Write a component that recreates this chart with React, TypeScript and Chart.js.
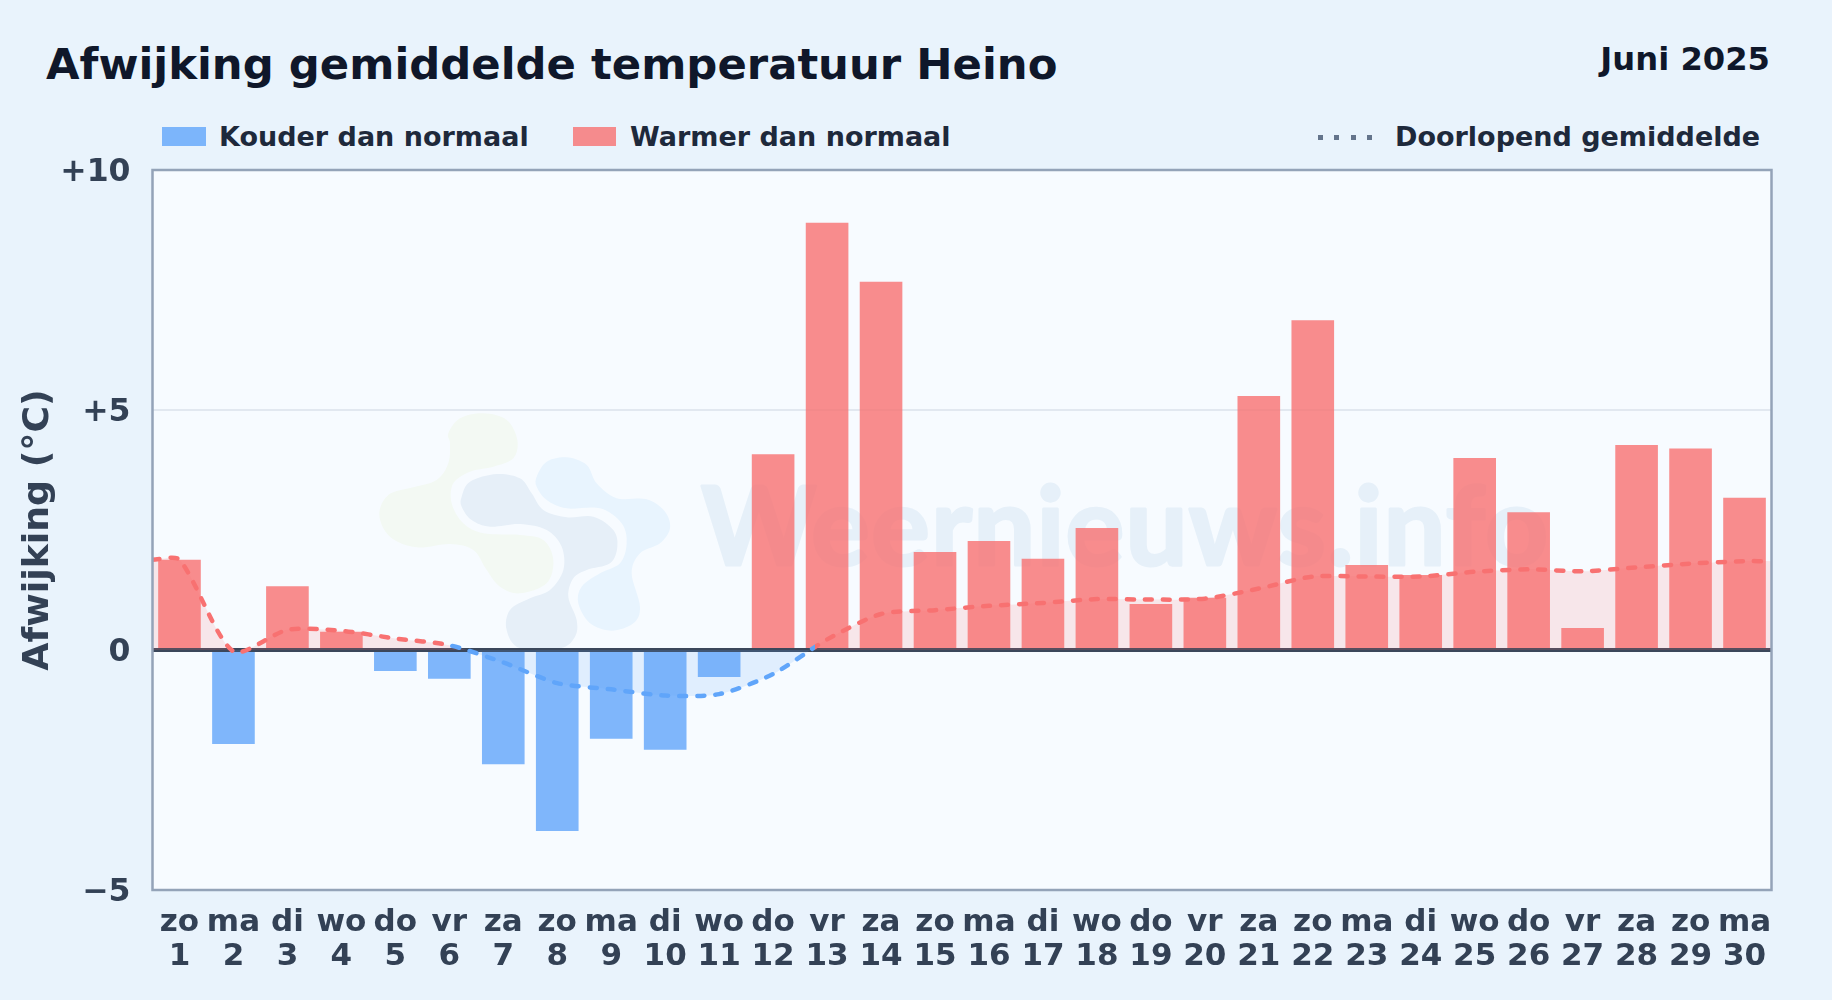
import React, { useEffect, useRef } from "react";
import { Chart, registerables } from "chart.js";

Chart.register(...registerables);

const weekdays = ["zo","ma","di","wo","do","vr","za","zo","ma","di","wo","do","vr","za","zo","ma","di","wo","do","vr","za","zo","ma","di","wo","do","vr","za","zo","ma"];
const dayNumbers = [1,2,3,4,5,6,7,8,9,10,11,12,13,14,15,16,17,18,19,20,21,22,23,24,25,26,27,28,29,30];
const deviation = [1.88,-1.96,1.33,0.38,-0.44,-0.6,-2.38,-3.77,-1.85,-2.08,-0.56,4.08,8.9,7.67,2.04,2.27,1.9,2.54,0.96,1.09,5.29,6.87,1.77,1.56,4.0,2.87,0.46,4.27,4.2,3.17];
const runningMean = [1.88,-0.03,0.42,0.4,0.24,0.1,-0.26,-0.69,-0.82,-0.95,-0.92,-0.5,0.22,0.75,0.83,0.92,0.98,1.06,1.05,1.07,1.28,1.53,1.53,1.53,1.63,1.68,1.64,1.72,1.8,1.85];
const yTicks = [-5, 0, 5, 10];

const RED = "#f87171";
const BLUE = "#60a5fa";
const RED_BAR = "rgba(247,113,113,0.8)";
const BLUE_BAR = "rgba(96,165,250,0.8)";
const FONT = '"DejaVu Sans"';

const blobGreen = [[265,100],[300,55],[370,40],[440,60],[472,120],[460,175],[400,200],[330,215],[280,250],[275,310],[310,370],[370,400],[480,405],[550,420],[580,480],[560,550],[480,580],[420,560],[380,510],[340,450],[270,432],[170,442],[90,410],[58,345],[85,285],[160,262],[230,240],[265,190],[270,130]];
const blobSlate = [[305,290],[330,245],[410,222],[480,235],[515,280],[550,330],[620,352],[700,350],[760,390],[772,440],[750,490],[680,510],[640,535],[625,590],[650,660],[645,710],[600,745],[480,745],[440,690],[450,630],[510,595],[570,570],[610,510],[605,440],[560,390],[480,372],[390,380],[335,360],[305,320]];
const blobSky = [[530,230],[560,185],[620,172],[680,195],[710,250],[770,295],[860,298],[915,335],[930,385],[900,430],[840,460],[815,520],[840,620],[820,670],[755,692],[690,670],[655,610],[665,560],[720,520],[780,490],[800,430],[785,370],[720,325],[620,325],[560,300],[530,260]];

function drawBlob(ctx: CanvasRenderingContext2D, pts: number[][], color: string) {
  const P = pts.map(([x, y]) => [360 + x / 3, 400 + y / 3]);
  const n = P.length;
  ctx.beginPath();
  ctx.moveTo(P[0][0], P[0][1]);
  for (let i = 0; i < n; i++) {
    const p0 = P[(i - 1 + n) % n], p1 = P[i], p2 = P[(i + 1) % n], p3 = P[(i + 2) % n];
    ctx.bezierCurveTo(
      p1[0] + (p2[0] - p0[0]) / 6, p1[1] + (p2[1] - p0[1]) / 6,
      p2[0] - (p3[0] - p1[0]) / 6, p2[1] - (p3[1] - p1[1]) / 6,
      p2[0], p2[1]
    );
  }
  ctx.closePath();
  ctx.fillStyle = color;
  ctx.fill();
}

const decorPlugin = {
  id: "decor",
  beforeDraw(chart: any) {
    const { ctx, chartArea: a } = chart;
    ctx.save();
    ctx.fillStyle = "#f7fbff";
    ctx.fillRect(a.left, a.top, a.right - a.left, a.bottom - a.top);
    ctx.beginPath();
    ctx.rect(a.left, a.top, a.right - a.left, a.bottom - a.top);
    ctx.clip();
    drawBlob(ctx, blobGreen, "#f3f9f3");
    drawBlob(ctx, blobSlate, "#e6eff8");
    drawBlob(ctx, blobSky, "#e8f4fe");
    ctx.font = 'bold 110px "Lato"';
    (ctx as any).letterSpacing = "1.2px";
    ctx.fillStyle = "#e6f0f9";
    ctx.strokeStyle = "#e6f0f9";
    ctx.lineWidth = 3;
    ctx.lineJoin = "round";
    ctx.textAlign = "left";
    ctx.textBaseline = "alphabetic";
    ctx.strokeText("Weernieuws.info", 701, 565);
    ctx.fillText("Weernieuws.info", 701, 565);
    ctx.restore();
  },
  afterDatasetDraw(chart: any, args: any) {
    if (args.index !== 0) return;
    const { ctx, chartArea: a, scales } = chart;
    const y = scales.y.getPixelForValue(0);
    ctx.save();
    ctx.strokeStyle = "#3b475b";
    ctx.lineWidth = 4;
    ctx.beginPath();
    ctx.moveTo(a.left, y);
    ctx.lineTo(a.right, y);
    ctx.stroke();
    ctx.restore();
  },
  afterDraw(chart: any) {
    const { ctx, chartArea: a } = chart;
    ctx.save();
    ctx.strokeStyle = "#94a3b8";
    ctx.lineWidth = 2.5;
    ctx.strokeRect(a.left, a.top, a.right - a.left, a.bottom - a.top);
    ctx.restore();
  },
};

function lineColor(c: any) {
  const chart = c.chart;
  const sx = chart.scales && chart.scales.x;
  if (!chart.chartArea || !sx) return RED;
  const left = chart.chartArea.left, right = chart.chartArea.right;
  const g = chart.ctx.createLinearGradient(left, 0, right, 0);
  const f = (v: number) => (sx.getPixelForValue(v) - left) / (right - left);
  const a = f(5.95), b = f(12.78);
  g.addColorStop(0, RED);
  g.addColorStop(a, RED);
  g.addColorStop(a, BLUE);
  g.addColorStop(b, BLUE);
  g.addColorStop(b, RED);
  g.addColorStop(1, RED);
  return g;
}

const abs = (s: any): React.CSSProperties => ({ position: "absolute", whiteSpace: "nowrap", fontFamily: FONT, fontWeight: 700, ...s });

export default function App() {
  const ref = useRef<HTMLCanvasElement>(null);
  useEffect(() => {
    document.body.style.margin = "0";
    const lineData = [
      { x: dayNumbers[0] - 0.5, y: runningMean[0] },
      ...runningMean.map((y, i) => ({ x: dayNumbers[i], y })),
      { x: dayNumbers[dayNumbers.length - 1] + 0.5, y: runningMean[runningMean.length - 1] },
    ];
    const chart = new Chart(ref.current!, {
      type: "bar",
      data: {
        datasets: [
          {
            type: "bar",
            label: "Afwijking",
            data: deviation.map((y, i) => ({ x: dayNumbers[i], y })),
            order: 2,
            backgroundColor: (c: any) => (c.raw && c.raw.y < 0 ? BLUE_BAR : RED_BAR),
            barPercentage: 0.79,
            categoryPercentage: 1,
          },
          {
            type: "line",
            label: "Doorlopend gemiddelde",
            data: lineData,
            order: 1,
            borderColor: lineColor,
            borderWidth: 4.5,
            borderDash: [7, 11],
            borderCapStyle: "round",
            pointRadius: 0,
            tension: 0.25,
            fill: { target: { value: 0 }, above: "rgba(248,113,113,0.15)", below: "rgba(96,165,250,0.15)" },
          },
        ],
      } as any,
      options: {
        animation: false,
        responsive: false,
        layout: { padding: { top: 170, right: 60.5, bottom: 0, left: 0 } },
        plugins: { legend: { display: false }, tooltip: { enabled: false }, title: { display: false } },
        scales: {
          x: {
            type: "linear",
            offset: false,
            min: dayNumbers[0] - 0.5,
            max: dayNumbers[dayNumbers.length - 1] + 0.5,
            grid: { display: false },
            border: { display: false },
            afterFit: (s: any) => { s.height = 110; },
            afterBuildTicks: (s: any) => { s.ticks = dayNumbers.map((value) => ({ value })); },
            ticks: {
              color: "#334155",
              font: { family: FONT, weight: "bold", size: 31, lineHeight: 1.1 },
              padding: 8,
              maxRotation: 0,
              autoSkip: false,
              callback: (v: any) => [weekdays[dayNumbers.indexOf(v)], String(v)],
            },
          },
          y: {
            min: yTicks[0],
            max: yTicks[yTicks.length - 1],
            afterFit: (s: any) => { s.width = 152.5; },
            afterBuildTicks: (s: any) => { s.ticks = yTicks.map((value) => ({ value })); },
            border: { display: false },
            grid: {
              drawTicks: false,
              color: (c: any) => (c.tick && c.tick.value === 5 ? "#e2e8f0" : "transparent"),
              lineWidth: 2,
            },
            ticks: {
              color: "#334155",
              font: { family: FONT, weight: "bold", size: 31.5 },
              padding: 22,
              labelOffset: 3,
              callback: (v: any) => (v > 0 ? "+" + v : v < 0 ? "\u2212" + Math.abs(v) : "0"),
            },
            title: {
              display: true,
              text: "Afwijking (\u00b0C)",
              color: "#334155",
              font: { family: FONT, weight: "bold", size: 36.3 },
              padding: { top: 17, bottom: 0 },
            },
          },
        },
      },
      plugins: [decorPlugin],
    } as any);
    return () => chart.destroy();
  }, []);

  return (
    <div style={{ position: "absolute", left: 0, top: 0, width: 1832, height: 1000, overflow: "hidden", background: "#e9f3fc" }}>
      <div style={abs({ left: 46, top: 39, fontSize: 43.35, lineHeight: "50px", color: "#0f172a" })}>Afwijking gemiddelde temperatuur Heino</div>
      <div style={abs({ right: 62, top: 39, fontSize: 32.2, lineHeight: "40px", color: "#0f172a" })}>Juni 2025</div>

      <div style={abs({ left: 162, top: 127, width: 44, height: 19, background: BLUE_BAR })} />
      <div style={abs({ left: 219, top: 120, fontSize: 27, lineHeight: "34px", color: "#1e293b" })}>Kouder dan normaal</div>
      <div style={abs({ left: 573, top: 127, width: 43, height: 19, background: RED_BAR })} />
      <div style={abs({ left: 630, top: 120, fontSize: 27, lineHeight: "34px", color: "#1e293b" })}>Warmer dan normaal</div>
      <div style={abs({ left: 1318, top: 135, width: 55, height: 5, background: "repeating-linear-gradient(90deg,#64748b 0 5px,transparent 5px 16.5px)" })} />
      <div style={abs({ left: 1395, top: 120, fontSize: 27, lineHeight: "34px", color: "#1e293b" })}>Doorlopend gemiddelde</div>

      <canvas ref={ref} width={1832} height={1000} style={{ position: "absolute", left: 0, top: 0, width: 1832, height: 1000 }} />
    </div>
  );
}
